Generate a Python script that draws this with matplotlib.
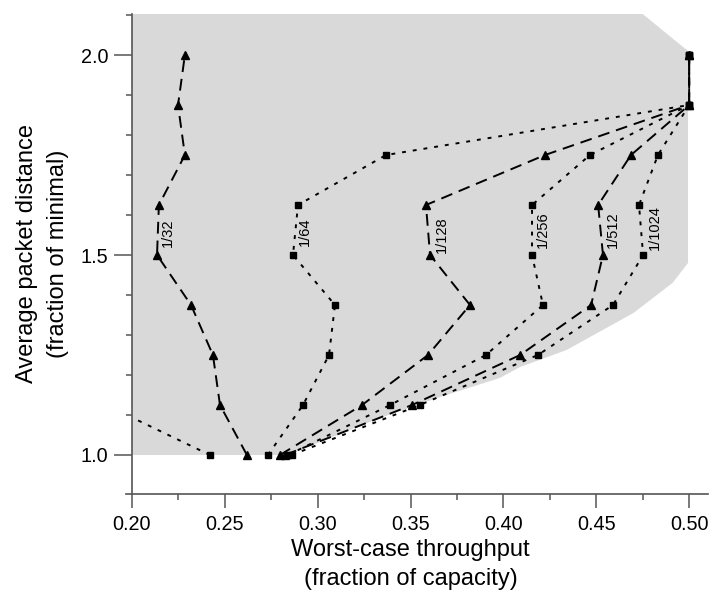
import matplotlib
matplotlib.use("Agg")
from matplotlib import pyplot as plt
from matplotlib.patches import Rectangle

plt.rcParams['font.family'] = ['Liberation Sans', 'DejaVu Sans']
plt.rcParams['lines.scale_dashes'] = False

# distance levels (fraction of minimal), shared by every curve
levels = [1.0, 1.125, 1.25, 1.375, 1.5, 1.625, 1.75, 1.875, 2.0]

# triangle curves (dashed)
tri_32 = [0.2619, 0.2474, 0.2436, 0.2318, 0.2135, 0.2145, 0.2285, 0.2248, 0.2285]
tri_128 = [0.2797, 0.3239, 0.3594, 0.3820, 0.3605, 0.3583, 0.4224, 0.5, 0.5]
tri_512 = [0.2824, 0.3508, 0.4090, 0.4472, 0.4536, 0.4510, 0.4687, 0.5, 0.5]

# square curves (dotted)
sq_32_levels = [1.0, 1.125]
sq_32 = [0.2420, 0.1860]
sq_64 = [0.2732, 0.2921, 0.3061, 0.3093, 0.2867, 0.2894, 0.3368, 0.5, 0.5]
sq_256 = [0.2840, 0.3390, 0.3906, 0.4213, 0.4154, 0.4154, 0.4466, 0.5, 0.5]
sq_1024 = [0.2860, 0.3550, 0.4186, 0.4590, 0.4752, 0.4730, 0.4832, 0.5, 0.5]

# curve labels and where they sit
curve_labels = ["1/32", "1/64", "1/128", "1/256", "1/512", "1/1024"]
label_x = [0.2194, 0.2932, 0.3670, 0.4213, 0.4590, 0.4816]
label_y = [1.555, 1.5575, 1.55, 1.5625, 1.5625, 1.568]

# shaded feasible region
region_x = [0.2, 0.285, 0.2905, 0.3335, 0.3659, 0.398, 0.409, 0.434, 0.470,
            0.491, 0.4994, 0.4994, 0.475, 0.2]
region_y = [1.0, 1.0, 1.0125, 1.0925, 1.145, 1.1925, 1.22, 1.2625, 1.355,
            1.43, 1.48, 2.01, 2.1025, 2.1025]

fig = plt.figure(figsize=(7.12, 5.99), dpi=100)
ax = fig.add_axes([0.1775, 0.1753, 0.8165, 0.8013])
ax.set_xlim(0.197, 0.51)
ax.set_ylim(0.9025, 2.1025)

ax.fill(region_x, region_y, color='#d9d9d9', lw=0, zorder=0)

clip = Rectangle((0.2, 0.9), 0.32, 1.3, transform=ax.transData)

dashed = dict(color='black', lw=1.4, dashes=(8.5, 5), marker='^', ms=6)
dotted = dict(color='black', lw=1.4, dashes=(2.8, 5), marker='s', ms=5)

lines = []
for xs in (tri_32, tri_128, tri_512):
    lines += ax.plot(xs, levels, **dashed)
lines += ax.plot(sq_32, sq_32_levels, **dotted)
for xs in (sq_64, sq_256, sq_1024):
    lines += ax.plot(xs, levels, **dotted)
for ln in lines:
    ln.set_clip_path(clip)

for s, x, y in zip(curve_labels, label_x, label_y):
    ax.text(x, y, s, rotation=90, ha='center', va='center', fontsize=10.5)

for side in ('top', 'right'):
    ax.spines[side].set_visible(False)
ax.spines['left'].set_position(('data', 0.2))
for side in ('left', 'bottom'):
    ax.spines[side].set_color('#555555')
    ax.spines[side].set_linewidth(1.2)

ax.set_xticks([0.20, 0.25, 0.30, 0.35, 0.40, 0.45, 0.50])
ax.set_xticklabels(["0.20", "0.25", "0.30", "0.35", "0.40", "0.45", "0.50"])
ax.set_xticks([0.225, 0.275, 0.325, 0.375, 0.425, 0.475], minor=True)
ax.set_yticks([1.0, 1.5, 2.0])
ax.set_yticklabels(["1.0", "1.5", "2.0"])
ax.set_yticks([1.1, 1.2, 1.3, 1.4, 1.6, 1.7, 1.8, 1.9, 2.1], minor=True)
ax.tick_params(axis='x', which='major', length=10, width=1.1, pad=5,
               labelsize=14.3, color='#555555')
ax.tick_params(axis='y', which='major', length=13, width=1.1, pad=4,
               labelsize=14.3, color='#555555')
ax.tick_params(which='minor', length=4, width=1.1, color='#555555')

fig.text(0.5765, 0.0576, "Worst-case throughput\n(fraction of capacity)",
         ha='center', va='center', fontsize=17, linespacing=1.4)
fig.text(0.0597, 0.576, "Average packet distance\n(fraction of minimal)",
         ha='center', va='center', rotation=90, fontsize=17, linespacing=1.5)

fig.savefig("out.png", dpi=100)
